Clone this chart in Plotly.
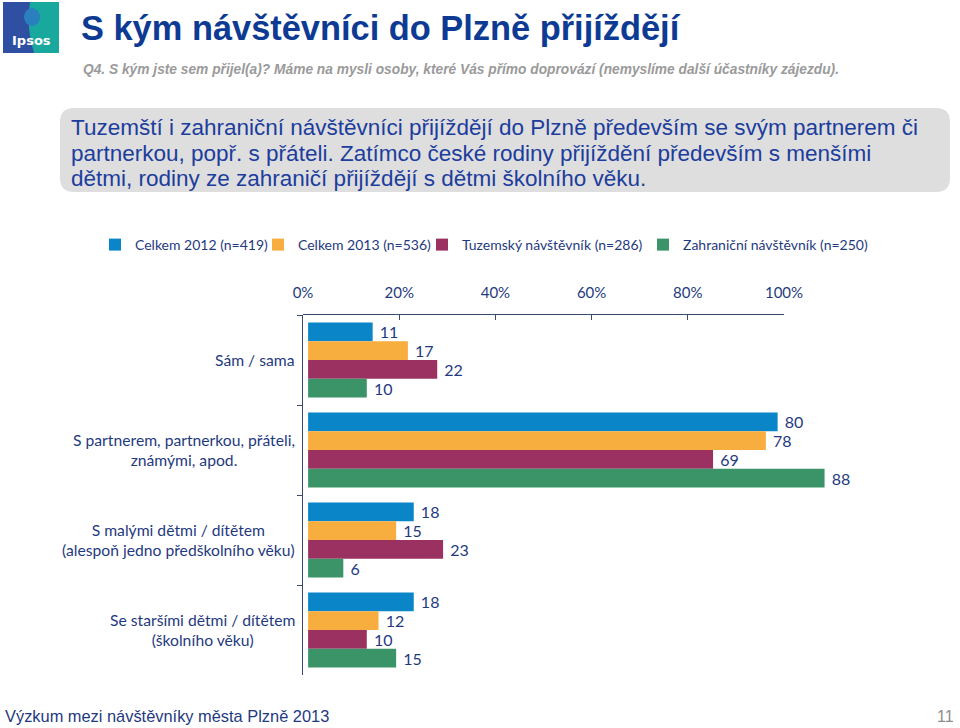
import plotly.graph_objects as go

# ---------------- data ----------------
categories = [
    "Sám / sama",
    "S partnerem, partnerkou, přáteli,<br>známými, apod.",
    "S malými dětmi / dítětem<br>(alespoň jedno předškolního věku)",
    "Se staršími dětmi / dítětem<br>(školního věku)",
]
series_names = [
    "Celkem 2012 (n=419)",
    "Celkem 2013 (n=536)",
    "Tuzemský návštěvník (n=286)",
    "Zahraniční návštěvník (n=250)",
]
celkem_2012 = [11, 80, 18, 18]
celkem_2013 = [17, 78, 15, 12]
tuzemsky = [22, 69, 23, 10]
zahranicni = [10, 88, 6, 15]
axis_ticks = [0, 20, 40, 60, 80, 100]
axis_tick_labels = ["0%", "20%", "40%", "60%", "80%", "100%"]

summary_lines = [
    "Tuzemští i zahraniční návštěvníci přijíždějí do Plzně především se svým partnerem či",
    "partnerkou, popř. s přáteli. Zatímco české rodiny přijíždění především s menšími",
    "dětmi, rodiny ze zahraničí přijíždějí s dětmi školního věku.",
]

series_values = [celkem_2012, celkem_2013, tuzemsky, zahranicni]
colors = ["#0A86C8", "#F8AD3F", "#9B3160", "#3A9467"]

W, H = 960, 728
def px(x):
    return x / W
def py(y):
    return 1 - y / H

NAVY = "#1F3A80"
CAL = "Lato, 'Open Sans', sans-serif"
ARIAL = "'Liberation Sans', Arial, sans-serif"

legend_ids = ["legend", "legend2", "legend3", "legend4"]
legend_left_px = [95, 258, 422, 643]

fig = go.Figure()
for name, vals, col, lid in zip(series_names, series_values, colors, legend_ids):
    fig.add_trace(go.Bar(
        name=name, y=categories, x=vals, orientation="h",
        marker=dict(color=col, line=dict(width=0)),
        text=vals, texttemplate="\u00a0%{x}", textposition="outside",
        textfont=dict(family=CAL, size=16, color=NAVY),
        constraintext="none", cliponaxis=False, hoverinfo="skip",
        xaxis="x", yaxis="y", legend=lid,
    ))

# helper invisible trace for the percentage axis
fig.add_trace(go.Scatter(x=[0, 100], y=[0, 0], mode="none", xaxis="x2", yaxis="y2",
                         showlegend=False, hoverinfo="skip"))

shapes = []
# grey rounded box
x0, x1, y0, y1, r = px(60), px(950), py(192), py(108), 14
rx, ry = r / W, r / H
path = (f"M {x0+rx},{y1} L {x1-rx},{y1} Q {x1},{y1} {x1},{y1-ry} "
        f"L {x1},{y0+ry} Q {x1},{y0} {x1-rx},{y0} L {x0+rx},{y0} "
        f"Q {x0},{y0} {x0},{y0+ry} L {x0},{y1-ry} Q {x0},{y1} {x0+rx},{y1} Z")
shapes.append(dict(type="path", xref="paper", yref="paper", path=path,
                   fillcolor="#DEDEDF", line=dict(width=0), layer="below"))
# logo
shapes.append(dict(type="rect", xref="paper", yref="paper", x0=px(3), x1=px(59), y0=py(53), y1=py(2),
                   fillcolor="#2F4FA2", line=dict(width=0), layer="below"))
lp = (f"M {px(30)},{py(2)} L {px(59)},{py(2)} L {px(59)},{py(53)} L {px(34)},{py(53)} "
      f"Q {px(26)},{py(28)} {px(30)},{py(2)} Z")
shapes.append(dict(type="path", xref="paper", yref="paper", path=lp,
                   fillcolor="#19A89E", line=dict(width=0), layer="below"))
shapes.append(dict(type="circle", xref="paper", yref="paper", x0=px(24), x1=px(40), y0=py(26), y1=py(8),
                   fillcolor="#2A7FBF", line=dict(width=0), layer="below"))

annotations = []
annotations.append(dict(text="<b>Ipsos</b>", x=px(31), y=py(40), xref="paper", yref="paper",
                        showarrow=False, xanchor="center", yanchor="middle",
                        font=dict(family="'DejaVu Sans', sans-serif", size=13, color="white")))
annotations.append(dict(text="<b>S kým návštěvníci do Plzně přijíždějí</b>", x=px(79), y=py(28),
                        xref="paper", yref="paper", showarrow=False, xanchor="left", yanchor="middle",
                        font=dict(family=ARIAL, size=34.4, color="#0D3B94")))
annotations.append(dict(text="<b><i>Q4. S kým jste sem přijel(a)? Máme na mysli osoby, které Vás přímo doprovází (nemyslíme další účastníky zájezdu).</i></b>",
                        x=px(81), y=py(69), xref="paper", yref="paper", showarrow=False,
                        xanchor="left", yanchor="middle",
                        font=dict(family=ARIAL, size=13.75, color="#9A9A9A")))
for line, yy in zip(summary_lines, [127, 153, 178]):
    annotations.append(dict(text=line, x=px(69), y=py(yy), xref="paper", yref="paper", showarrow=False,
                            xanchor="left", yanchor="middle", align="left",
                            font=dict(family=ARIAL, size=22.5, color="#1C3D9C")))
for c in categories:
    annotations.append(dict(text=c, x=px(297), y=c, xref="paper", yref="y", showarrow=False,
                            xanchor="right", yanchor="middle", align="center",
                            font=dict(family=CAL, size=15.7, color=NAVY)))
annotations.append(dict(text="Výzkum mezi návštěvníky města Plzně 2013", x=px(3), y=py(716),
                        xref="paper", yref="paper", showarrow=False, xanchor="left", yanchor="middle",
                        font=dict(family=ARIAL, size=16.4, color="#1F3A80")))
annotations.append(dict(text="11", x=px(956), y=py(716), xref="paper", yref="paper", showarrow=False,
                        xanchor="right", yanchor="middle",
                        font=dict(family=ARIAL, size=16, color="#8C8C8C")))

legend_layout = {}
for lid, lx in zip(legend_ids, legend_left_px):
    legend_layout[lid] = dict(orientation="h", x=px(lx), xanchor="left", y=py(245), yanchor="middle",
                              font=dict(family=CAL, size=14, color=NAVY), itemwidth=30,
                              bgcolor="rgba(0,0,0,0)", borderwidth=0)

fig.update_layout(
    width=W, height=H, margin=dict(l=0, r=0, t=0, b=0, pad=0, autoexpand=False),
    paper_bgcolor="white", plot_bgcolor="rgba(0,0,0,0)",
    barmode="group", bargap=0.167, bargroupgap=0,
    showlegend=True,
    xaxis=dict(domain=[px(303), px(895)], range=[-0.87, 100], visible=False, fixedrange=True,
               automargin=False),
    yaxis=dict(domain=[py(675), py(315)], type="category", autorange="reversed",
               showline=True, linecolor="#3A4A6A", linewidth=1.2, ticks="outside", tickson="boundaries",
               ticklen=5, tickcolor="#3A4A6A", showticklabels=False, showgrid=False, zeroline=False,
               automargin=False),
    xaxis2=dict(domain=[px(303), px(784)], range=[0, 100], anchor="y2", side="top",
                tickmode="array", tickvals=axis_ticks, ticktext=axis_tick_labels,
                ticks="inside", ticklen=5,
                tickcolor="#3A4A6A", showline=True, linecolor="#3A4A6A", linewidth=1.2,
                showgrid=False, zeroline=False, ticklabelstandoff=10, automargin=False,
                tickfont=dict(family=CAL, size=15, color=NAVY)),
    yaxis2=dict(domain=[py(675), py(315)], anchor="x2", range=[0, 1], visible=False, automargin=False),
    shapes=shapes, annotations=annotations,
    **legend_layout,
)

fig.write_html("out.html", config={"displayModeBar": False},
               post_script="document.body.style.margin='0';document.body.style.overflow='hidden';")
